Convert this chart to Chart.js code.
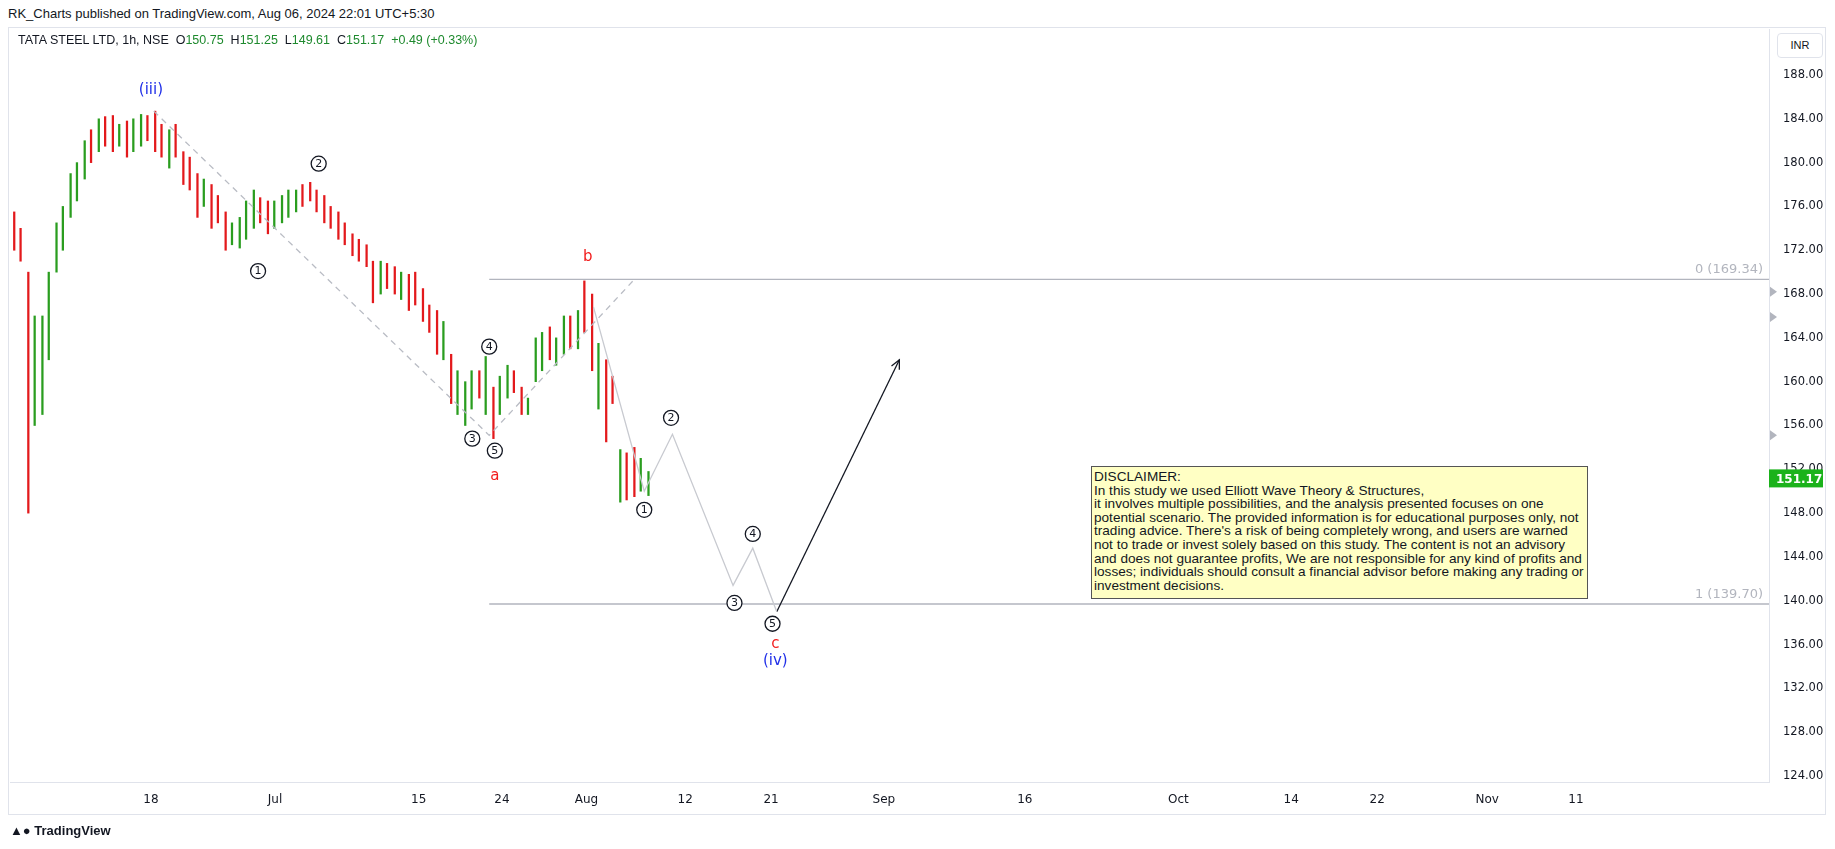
<!DOCTYPE html>
<html>
<head>
<meta charset="utf-8">
<script src="https://cdn.jsdelivr.net/npm/chart.js@4.4.1/dist/chart.umd.min.js"></script>
<style>
  body { margin: 0; background: #fff; font-family: 'Liberation Sans', Arial, sans-serif; }
  #wrap { position: relative; width: 1835px; height: 849px; }
  #head { position: absolute; left: 8px; top: 6px; font-size: 13px; color: #131722; }
  #frame { position: absolute; left: 8px; top: 27px; width: 1818px; height: 788px; border: 1px solid #e0e3eb; box-sizing: border-box; }
  #legend { position: absolute; left: 18px; top: 33px; font-size: 12.5px; color: #131722; }
  #legend .g { color: #1e8a2e; }
  #inr { position: absolute; left: 1777px; top: 33px; width: 44px; height: 23px; border: 1px solid #e0e3eb; border-radius: 4px; font-size: 11px; text-align: center; line-height: 23px; color: #131722; background: #fff; }
  #disc { position: absolute; left: 1091px; top: 466px; width: 497px; height: 133px; background: #ffffc4; border: 1px solid #555; box-sizing: border-box; font-size: 13.6px; line-height: 13.6px; padding: 3px 2px; color: #131722; }
  #foot { position: absolute; left: 10px; top: 823px; font-size: 13px; color: #131722; font-weight: bold; }
  canvas { position: absolute; left: 0; top: 0; }
</style>
</head>
<body>
<div id="wrap">
  <div id="head">RK_Charts published on TradingView.com, Aug 06, 2024 22:01 UTC+5:30</div>
  <div id="frame"></div>
  <canvas id="chart" width="1835" height="849"></canvas>
  <div id="legend">TATA STEEL LTD, 1h, NSE&nbsp;&nbsp;O<span class="g">150.75</span>&nbsp;&nbsp;H<span class="g">151.25</span>&nbsp;&nbsp;L<span class="g">149.61</span>&nbsp;&nbsp;C<span class="g">151.17</span>&nbsp;&nbsp;<span class="g">+0.49 (+0.33%)</span></div>
  <div id="inr">INR</div>
  <div id="disc">DISCLAIMER:<br>In this study we used Elliott Wave Theory &amp; Structures,<br>it involves multiple possibilities, and the analysis presented focuses on one potential scenario. The provided information is for educational purposes only, not trading advice. There's a risk of being completely wrong, and users are warned not to trade or invest solely based on this study. The content is not an advisory and does not guarantee profits, We are not responsible for any kind of profits and losses; individuals should consult a financial advisor before making any trading or investment decisions.</div>
  <div id="foot">&#9650;&#9679; TradingView</div>
</div>
<script>
// half-day bars, x in trading-day units
const barX = [];
for (let d = 0; d < 46; d++) { barX.push(d + 0.3); if (d < 45) barX.push(d + 0.75); }
const lows = [172,171, 148,156, 157,162, 170,172, 175,176.5, 178.5,180, 181,181.5, 181,181.5, 180.5,181, 181.5,182,
  181,180.5, 179.5,180.5, 178,177.5, 175,176, 174,174.5, 172,172.5, 172.2,173, 174,174.5, 173.5,174, 174.5,175,
  175.5,176, 176.5,175.5, 174.5,174, 173,172.5, 171.5,171, 170.5,167.2, 168,168.5, 168,167.5, 166.5,167, 165.5,164.5,
  162.5,162, 158,157, 156,157.5, 158.5,157, 154.8,157, 158.5,159, 157,157, 160,161, 162,161.5, 162.5,163,
  163,164.5, 161,157.5, 154.5,158, 149,149.2, 149.5,150, 149.6];
const highs = [175.5,174, 170,166, 166,170, 174.5,176, 179,180, 182,183, 184,184.2, 184.3,183.5, 183.8,184, 184.4,184.3,
  184.7,183.5, 183,183.5, 181,180.5, 179,178.5, 178,177, 175.5,174.5, 175,176.5, 177.5,176.8, 176.5,176.5, 177,177.5,
  177.5,178, 178.2,177.5, 177,176, 175.5,174.5, 173.5,173, 172.5,171, 171,170.8, 170.5,170, 169.8,170, 168.5,167,
  166.5,165.5, 162.5,161, 160,161, 161,162.3, 159.5,160.5, 161.5,161, 159.5,158.5, 164,164.5, 165,164, 166,166,
  166.5,169.2, 168,163.5, 162,160.5, 153.8,153.5, 154,153, 151.8];
const ups = [0,0, 0,1, 1,1, 1,1, 1,1, 1,0, 1,0, 0,1, 0,1, 1,0,
  0,0, 1,0, 0,0, 0,1, 0,0, 0,1, 1,1, 1,0, 0,1, 1,1,
  1,0, 0,0, 0,0, 0,0, 0,0, 0,0, 1,0, 0,1, 0,0, 0,0,
  0,1, 0,1, 1,1, 0,1, 0,1, 1,0, 0,1, 1,1, 0,1, 1,0,
  1,0, 0,1, 0,0, 1,0, 0,1, 1];

const tickPos = [10, 18.8, 29.0, 34.9, 40.9, 47.9, 54.0, 62.0, 72.0, 82.9, 90.9, 97.0, 104.8, 111.1];
const tickLabels = ['18', 'Jul', '15', '24', 'Aug', '12', '21', 'Sep', '16', 'Oct', '14', '22', 'Nov', '11'];

const impulseDash = [[10.2, 184.7], [34.0, 155.1], [44.2, 169.2]];
const projection = [[41.4, 166.8], [45.0, 150.0], [47.0, 155.2], [51.3, 141.4], [52.7, 144.8], [54.4, 139.0]];
const arrowLine = [[54.4, 139.0], [63.1, 162.0]];
const fibLevels = [169.34, 139.70];
const fibLabels = ['0 (169.34)', '1 (139.70)'];
const lastClose = 151.17;

// [x, y, text, kind]: circle = circled digit, red, blue
const waveLabels = [
  [10.0, 186.6, '(iii)', 'blue'], [17.6, 170.1, '1', 'circle'], [21.9, 179.9, '2', 'circle'],
  [32.8, 154.8, '3', 'circle'], [34.0, 163.2, '4', 'circle'], [34.4, 153.7, '5', 'circle'],
  [34.4, 151.4, 'a', 'red'], [41.0, 171.4, 'b', 'red'],
  [45.0, 148.3, '1', 'circle'], [46.9, 156.7, '2', 'circle'], [51.4, 139.8, '3', 'circle'],
  [52.7, 146.1, '4', 'circle'], [54.1, 137.9, '5', 'circle'], [54.3, 136.0, 'c', 'red'], [54.3, 134.5, '(iv)', 'blue']
];

const xy = arr => arr.map(p => ({ x: p[0], y: p[1] }));
const xMin = 0.0, xMax = 124.8;

const overlay = {
  id: 'overlay',
  afterDatasetsDraw(c) {
    const ctx = c.ctx, xs = c.scales.x, ys = c.scales.y, ca = c.chartArea;
    ctx.save();
    ctx.font = '13px "DejaVu Sans"';
    ctx.fillStyle = '#b2b5be';
    ctx.textAlign = 'right';
    ctx.textBaseline = 'bottom';
    fibLevels.forEach((v, i) => ctx.fillText(fibLabels[i], ca.right - 6, ys.getPixelForValue(v) - 3));
    const a = arrowLine[0], b = arrowLine[1];
    const x1 = xs.getPixelForValue(a[0]), y1 = ys.getPixelForValue(a[1]);
    const x2 = xs.getPixelForValue(b[0]), y2 = ys.getPixelForValue(b[1]);
    const ang = Math.atan2(y2 - y1, x2 - x1);
    ctx.strokeStyle = '#131722'; ctx.lineWidth = 1.3;
    ctx.beginPath();
    ctx.moveTo(x2 - 10 * Math.cos(ang - 0.45), y2 - 10 * Math.sin(ang - 0.45));
    ctx.lineTo(x2, y2);
    ctx.lineTo(x2 - 10 * Math.cos(ang + 0.45), y2 - 10 * Math.sin(ang + 0.45));
    ctx.stroke();
    ctx.textAlign = 'center'; ctx.textBaseline = 'middle';
    waveLabels.forEach(l => {
      const px = xs.getPixelForValue(l[0]), py = ys.getPixelForValue(l[1]);
      if (l[3] === 'circle') {
        ctx.beginPath(); ctx.arc(px, py, 7.5, 0, Math.PI * 2);
        ctx.fillStyle = '#fff'; ctx.fill();
        ctx.strokeStyle = '#131722'; ctx.lineWidth = 1.3; ctx.stroke();
        ctx.fillStyle = '#131722'; ctx.font = '11px "DejaVu Sans"';
        ctx.fillText(l[2], px, py + 0.5);
      } else {
        ctx.fillStyle = l[3] === 'red' ? '#f21d1d' : '#2130e8';
        ctx.font = '15px "DejaVu Sans"';
        ctx.fillText(l[2], px, py);
      }
    });
    ctx.fillStyle = '#b2b5be';
    [168.2, 165.9, 155.1].forEach(v => {
      const py = ys.getPixelForValue(v);
      ctx.beginPath(); ctx.moveTo(ca.right + 1, py - 5); ctx.lineTo(ca.right + 8, py); ctx.lineTo(ca.right + 1, py + 5); ctx.fill();
    });
    const py = ys.getPixelForValue(lastClose);
    ctx.fillStyle = '#1bb21b';
    ctx.fillRect(ca.right, py - 9, 54, 18);
    ctx.fillStyle = '#fff'; ctx.font = 'bold 12px "DejaVu Sans"'; ctx.textAlign = 'left';
    ctx.fillText(lastClose.toFixed(2), ca.right + 7, py + 1);
    ctx.restore();
  }
};

new Chart(document.getElementById('chart'), {
  type: 'bar',
  data: {
    datasets: [
      {
        data: barX.map((x, i) => ({ x: x, y: [lows[i], highs[i]] })),
        backgroundColor: ups.map(u => u ? '#2a9d1f' : '#e3191c'),
        barThickness: 1.6, order: 2
      },
      { type: 'line', data: xy(impulseDash), borderColor: '#b9bcc4', borderWidth: 1.3, borderDash: [6, 5], pointRadius: 0, order: 1 },
      { type: 'line', data: xy(projection), borderColor: '#c8cad0', borderWidth: 1.3, pointRadius: 0, order: 1 },
      { type: 'line', data: xy(arrowLine), borderColor: '#131722', borderWidth: 1.3, pointRadius: 0, order: 1 },
      ...fibLevels.map(v => ({ type: 'line', data: [{ x: 34, y: v }, { x: xMax, y: v }], borderColor: '#b2b5be', borderWidth: 1.3, pointRadius: 0, order: 1 }))
    ]
  },
  options: {
    responsive: false, animation: false,
    layout: { padding: { left: 10, top: 29, right: 12, bottom: 34 } },
    plugins: { legend: { display: false }, tooltip: { enabled: false } },
    scales: {
      x: {
        type: 'linear', min: xMin, max: xMax, offset: false,
        grid: { display: false }, border: { color: '#e0e3eb' },
        afterBuildTicks: s => { s.ticks = tickPos.map(v => ({ value: v })); },
        afterFit: s => { s.height = 33; },
        ticks: { autoSkip: false, maxRotation: 0, color: '#131722', font: { size: 12, family: 'DejaVu Sans' },
          callback: (v, i) => tickLabels[i] }
      },
      y: {
        position: 'right', min: 123.45, max: 192.2,
        grid: { display: false }, border: { color: '#e0e3eb' },
        afterBuildTicks: s => { const t = []; for (let v = 124; v <= 188; v += 4) t.push({ value: v }); s.ticks = t; },
        afterFit: s => { s.width = 54; },
        ticks: { color: '#131722', padding: 6, font: { size: 11.5, family: 'DejaVu Sans' }, callback: v => v.toFixed(2) }
      }
    }
  },
  plugins: [overlay]
});
</script>
</body>
</html>
